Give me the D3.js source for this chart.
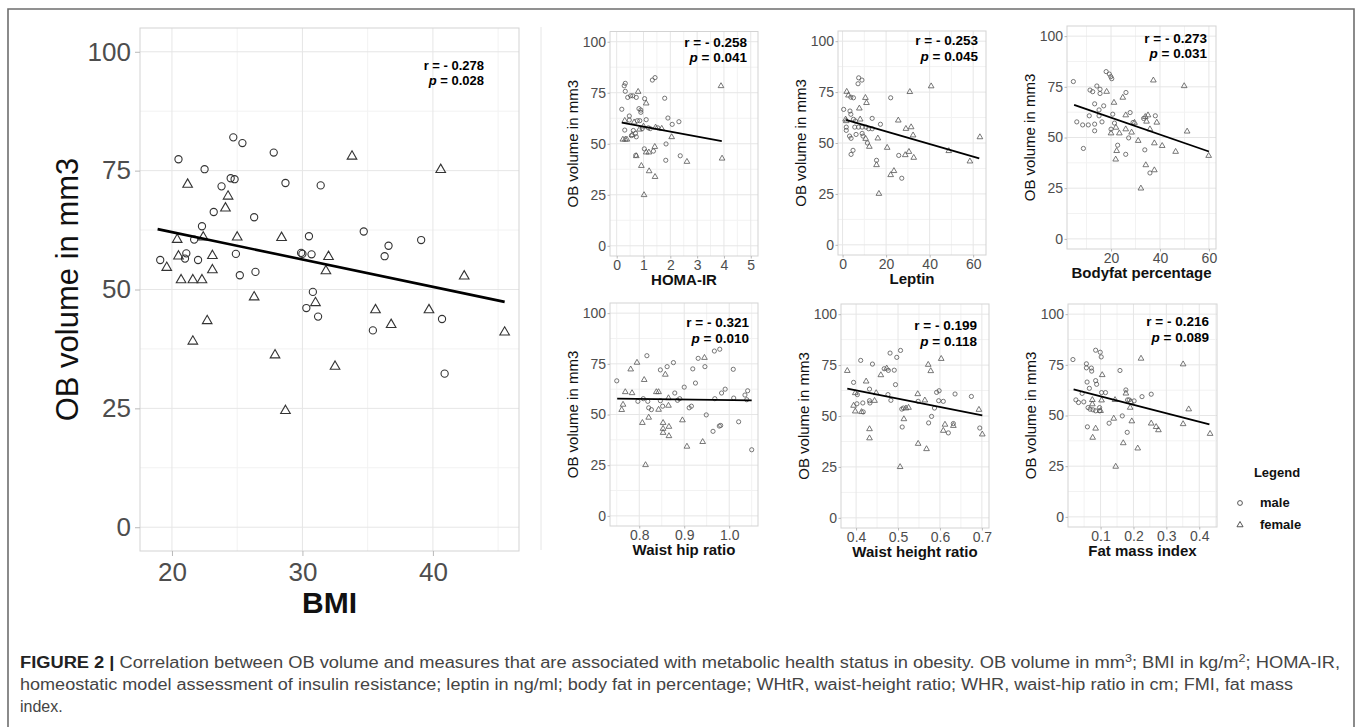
<!DOCTYPE html>
<html>
<head>
<meta charset="utf-8">
<title>OB volume and metabolic measures</title>
<script src="https://d3js.org/d3.v7.min.js"></script>
<style>
  body { margin: 0; background: #fff; }
  svg { display: block; font-family: "Liberation Sans", Arial, Helvetica, sans-serif; }
  .tick text { fill: #4d4d4d; }
  .tick line { stroke: #b8b8b8; }
</style>
</head>
<body>
<script>
var width = 1357,
    height = 727;

// y axis is shared by every panel
var yTicks = [0, 25, 50, 75, 100];

// BMI (large panel)
var bmiTicks = [20, 30, 40];
var bmiMale = [[19.1,56.2],[20.5,77.4],[21.1,57.6],[21.0,56.5],[21.7,60.5],[22.0,56.2],[22.3,63.3],[22.5,75.3],
  [23.2,66.3],[23.8,71.7],[24.7,82.0],[24.5,73.4],[24.8,73.2],[24.9,57.5],[25.2,53.0],[25.4,80.8],[26.3,65.2],
  [26.4,53.7],[27.8,78.8],[28.7,72.4],[29.9,57.7],[30.0,57.5],[30.5,61.2],[30.7,57.4],[31.4,71.9],[30.8,49.5],
  [30.3,46.1],[31.2,44.3],[34.7,62.2],[36.6,59.2],[36.3,57.0],[39.1,60.4],[40.7,43.8],[35.4,41.4],[40.9,32.3]];
var bmiFemale = [[19.6,54.6],[20.4,60.5],[20.5,57.0],[20.7,52.0],[21.2,72.1],[21.6,52.0],[22.3,52.0],[22.4,61.0],
  [23.1,57.1],[23.1,54.1],[22.7,43.4],[24.1,67.1],[24.3,69.6],[25.0,61.0],[26.3,48.4],[28.4,60.9],[31.0,47.2],
  [32.0,56.9],[31.8,53.9],[33.8,78.0],[35.6,45.7],[36.8,42.6],[40.6,75.2],[39.7,45.7],[42.4,52.8],[45.5,41.0],
  [21.6,39.1],[27.9,36.2],[28.7,24.5],[32.5,33.8]];
var bmiFit = [[18.9,62.7],[45.5,47.4]];
var bmiStats = ["- 0.278", "0.028"];

// HOMA-IR
var homaTicks = [0, 1, 2, 3, 4, 5];
var homaMale = [[0.19,66.9],[0.28,78.4],[0.32,79.6],[0.32,75.7],[0.41,72.7],[0.47,63.6],[0.52,73.5],[0.60,73.5],
  [0.30,56.7],[0.73,72.7],[0.83,67.2],[0.90,66.5],[0.90,65.4],[1.04,72.1],[1.10,61.8],[1.33,81.2],[1.43,82.4],
  [1.79,72.3],[1.91,62.6],[2.07,59.5],[2.32,60.8],[1.84,49.9],[1.37,46.4],[1.03,47.5],[0.71,44.3],[2.37,44.1],
  [1.83,41.9],[0.73,53.4],[0.70,55.1],[0.47,61.6],[1.18,57.8],[1.25,57.4],[1.53,57.8],[0.95,57.4],[0.86,61.3],
  [0.77,61.3],[0.55,54.0],[0.62,56.5]];
var homaFemale = [[0.23,52.1],[0.32,52.1],[0.38,52.1],[0.30,61.3],[0.80,75.5],[1.10,69.8],[0.73,44.0],[0.92,39.2],
  [1.02,24.9],[1.10,45.8],[1.20,45.8],[1.21,36.6],[1.43,33.8],[1.42,48.5],[1.45,58.0],[1.68,57.4],[2.05,53.3],
  [2.62,41.2],[3.89,78.3],[3.93,42.8],[0.58,54.3],[0.65,60.5],[0.85,57.0],[1.00,58.5]];
var homaFit = [[0.19,60.3],[3.92,51.3]];
var homaStats = ["- 0.258", "0.041"];

// Leptin
var leptinTicks = [0, 20, 40, 60];
var leptinMale = [[0.5,66.5],[3.8,72.5],[5.0,72.2],[3.4,65.7],[3.8,64.1],[1.7,57.8],[1.7,56.2],[5.0,61.6],[5.9,60.8],
  [5.6,57.8],[7.3,57.8],[9.0,57.8],[10.8,57.8],[3.2,53.4],[3.9,52.3],[6.2,54.2],[9.0,54.7],[9.4,53.4],[11.4,50.0],
  [4.8,46.4],[3.9,44.4],[7.1,79.1],[7.4,82.0],[8.9,80.9],[13.6,62.1],[12.0,57.0],[13.6,57.0],[17.4,59.2],
  [15.6,41.5],[22.1,72.2],[25.8,43.9],[27.2,32.7]];
var leptinFemale = [[1.9,75.2],[2.7,73.4],[1.4,61.6],[1.7,60.8],[8.1,61.6],[10.6,52.1],[12.3,48.2],[7.7,67.0],
  [10.5,72.2],[11.0,69.7],[16.2,52.3],[15.6,39.2],[16.7,25.1],[20.5,47.7],[22.1,34.3],[23.6,36.3],[25.6,61.1],
  [28.8,44.1],[29.1,57.0],[30.5,45.7],[30.9,75.1],[31.5,57.8],[32.4,53.8],[32.7,42.8],[40.7,77.9],[48.8,46.1],
  [58.5,41.0],[63.1,52.9]];
var leptinFit = [[1.6,61.3],[62.8,42.5]];
var leptinStats = ["- 0.253", "0.045"];

// Bodyfat percentage
var bodyfatTicks = [20, 40, 60];
var bodyfatMale = [[4.6,77.6],[6.0,57.7],[8.4,56.2],[10.7,56.2],[11.1,60.7],[8.7,44.6],[11.4,73.4],[12.5,72.6],
  [13.3,66.6],[13.3,56.6],[13.3,53.3],[14.2,75.4],[15.1,63.6],[15.5,73.8],[15.5,71.7],[15.1,60.7],[17.0,65.6],
  [16.3,57.7],[18.0,82.5],[19.3,81.3],[19.9,80.0],[20.3,79.0],[20.7,61.5],[20.0,54.1],[21.4,57.1],[22.7,46.2],
  [26.1,72.2],[27.8,62.3],[27.2,49.8],[29.0,57.4],[26.0,41.7],[33.3,59.4],[33.8,43.9],[38.1,60.7],[35.9,32.5]];
var bodyfatFemale = [[18.2,72.6],[21.2,67.2],[20.0,52.1],[22.0,54.9],[22.3,43.4],[21.9,39.2],[23.4,52.1],[24.8,69.7],
  [26.0,61.0],[26.0,54.1],[28.4,52.5],[29.6,57.3],[31.1,48.4],[34.0,60.2],[35.1,61.0],[34.5,57.9],[35.9,54.1],
  [38.7,57.4],[37.7,47.2],[40.9,45.9],[34.2,36.4],[37.7,33.9],[32.2,24.9],[37.3,78.2],[46.4,43.0],[49.9,75.4],
  [51.1,53.0],[59.9,41.0]];
var bodyfatFit = [[4.9,66.1],[60.0,43.1]];
var bodyfatStats = ["- 0.273", "0.031"];

// Waist hip ratio
var whrTicks = [0.8, 0.9, 1.0];
var whrMale = [[0.750,66.6],[0.797,56.5],[0.817,79.0],[0.809,57.8],[0.819,56.5],[0.821,53.3],[0.827,52.4],[0.847,72.0],
  [0.847,56.8],[0.852,54.1],[0.862,73.6],[0.876,75.6],[0.879,60.6],[0.885,57.0],[0.890,57.8],[0.900,63.5],
  [0.911,53.3],[0.916,54.1],[0.919,72.5],[0.925,65.5],[0.931,77.7],[0.946,73.6],[0.949,49.8],[0.964,41.7],
  [0.967,81.3],[0.979,82.2],[0.968,57.8],[0.978,44.3],[0.981,44.6],[0.983,60.6],[0.991,62.5],[1.009,72.3],
  [1.010,58.1],[1.021,46.4],[1.035,59.6],[1.041,61.7],[1.039,57.3],[1.050,32.6]];
var whrFemale = [[0.761,52.3],[0.764,54.9],[0.769,61.1],[0.781,72.3],[0.784,60.6],[0.795,75.6],[0.807,45.9],
  [0.811,67.1],[0.814,25.1],[0.821,48.5],[0.838,61.1],[0.843,61.1],[0.843,52.4],[0.853,45.9],[0.853,43.0],
  [0.853,41.0],[0.858,69.7],[0.865,54.4],[0.865,58.1],[0.866,44.0],[0.866,39.4],[0.896,47.2],[0.906,34.2],
  [0.941,36.5],[0.945,78.0]];
var whrFit = [[0.751,57.8],[1.050,57.0]];
var whrStats = ["- 0.321", "0.010"];

// Waist height ratio
var whtrTicks = [0.4, 0.5, 0.6, 0.7];
var whtrMale = [[0.394,66.5],[0.403,60.5],[0.402,56.0],[0.411,77.3],[0.416,56.4],[0.417,52.0],[0.432,63.2],[0.432,57.5],
  [0.433,56.4],[0.439,75.5],[0.467,73.2],[0.477,72.4],[0.476,60.5],[0.483,57.7],[0.481,80.9],[0.491,72.5],
  [0.494,65.4],[0.497,78.8],[0.506,82.2],[0.509,53.4],[0.513,53.9],[0.510,44.6],[0.548,57.2],[0.573,46.6],
  [0.580,49.8],[0.587,53.9],[0.592,61.6],[0.598,62.4],[0.597,57.5],[0.608,57.2],[0.620,41.7],[0.636,60.8],
  [0.632,46.3],[0.675,59.6],[0.695,44.1]];
var whtrFemale = [[0.379,72.2],[0.394,55.1],[0.398,61.3],[0.398,52.3],[0.413,52.0],[0.424,67.0],[0.432,43.6],
  [0.432,39.1],[0.444,57.5],[0.448,61.3],[0.459,70.1],[0.473,73.4],[0.505,25.0],[0.514,48.5],[0.519,53.8],
  [0.525,54.1],[0.547,60.8],[0.548,36.4],[0.564,57.7],[0.568,33.8],[0.572,75.2],[0.578,72.1],[0.603,78.1],
  [0.608,42.8],[0.612,45.8],[0.632,45.2],[0.693,53.1],[0.701,41.0]];
var whtrFit = [[0.379,63.4],[0.701,50.3]];
var whtrStats = ["- 0.199", "0.118"];

// Fat mass index
var fmiTicks = [0.1, 0.2, 0.3, 0.4];
var fmiMale = [[0.016,77.6],[0.025,57.7],[0.033,56.4],[0.049,56.7],[0.044,60.9],[0.057,75.5],[0.057,73.5],[0.059,66.5],
  [0.060,44.4],[0.062,53.9],[0.066,63.4],[0.068,53.1],[0.072,73.4],[0.073,71.9],[0.077,52.8],[0.085,52.3],
  [0.085,82.2],[0.085,67.2],[0.088,65.4],[0.099,81.2],[0.102,78.9],[0.097,53.9],[0.097,52.3],[0.103,61.3],
  [0.115,61.3],[0.126,46.2],[0.159,72.2],[0.166,49.8],[0.177,62.6],[0.182,57.7],[0.181,41.7],[0.187,57.7],
  [0.202,57.2],[0.226,59.3],[0.254,60.5]];
var fmiFemale = [[0.075,57.7],[0.075,55.6],[0.076,39.1],[0.085,43.6],[0.100,52.3],[0.105,70.0],[0.103,57.5],
  [0.140,48.5],[0.144,57.7],[0.146,24.8],[0.169,36.4],[0.177,60.9],[0.190,53.9],[0.192,56.7],[0.195,47.2],
  [0.213,33.8],[0.223,78.1],[0.254,46.1],[0.269,44.4],[0.276,42.8],[0.351,75.3],[0.351,45.8],[0.368,53.1],
  [0.433,41.0]];
var fmiFit = [[0.018,62.9],[0.431,45.6]];
var fmiStats = ["- 0.216", "0.089"];

var legendLabels = ["male", "female"];

// panel placement and look
var big = { tickFont: 26, tickLen: 5, xPad: 6.5, yPad: 4, yTitleSize: 31, yTitleOff: 73, xTitleSize: 30,
  xTitleOff: 62, r: 3.6, tri: 40, stroke: "#333", sw: 1.1, fitW: 2.6, statSize: 13, statGap: 15 };
var small = { tickFont: 14, tickLen: 2.5, xPad: 1.5, yPad: 1.5, yTitleSize: 15, yTitleOff: 37, xTitleSize: 15,
  xTitleOff: 29, r: 2.1, tri: 14, stroke: "#555", sw: 0.8, fitW: 1.8, statSize: 13.5, statGap: 15.5 };

var panels = [
  { title: "BMI", male: bmiMale, female: bmiFemale, fit: bmiFit, stats: bmiStats, ticks: bmiTicks,
    xDomain: [17.55, 46.6], box: { l: 140, r: 519, t: 28, b: 551 }, st: big, stat: [484, 70] },
  { title: "HOMA-IR", male: homaMale, female: homaFemale, fit: homaFit, stats: homaStats, ticks: homaTicks,
    xDomain: [-0.25, 5.27], box: { l: 610, r: 758, t: 31.5, b: 256 }, st: small, stat: [747, 46.7] },
  { title: "Leptin", male: leptinMale, female: leptinFemale, fit: leptinFit, stats: leptinStats, ticks: leptinTicks,
    xDomain: [-2.1, 65.9], box: { l: 838, r: 986, t: 31, b: 255 }, st: small, stat: [978, 45] },
  { title: "Bodyfat percentage", male: bodyfatMale, female: bodyfatFemale, fit: bodyfatFit, stats: bodyfatStats,
    ticks: bodyfatTicks, xDomain: [2.0, 62.9], box: { l: 1067, r: 1216, t: 26, b: 249 }, st: small, stat: [1207, 42.7] },
  { title: "Waist hip ratio", male: whrMale, female: whrFemale, fit: whrFit, stats: whrStats, ticks: whrTicks,
    xDomain: [0.735, 1.064], box: { l: 610, r: 758, t: 303, b: 526 }, st: small, stat: [749, 327], fmt: ".1f" },
  { title: "Waist height ratio", male: whtrMale, female: whtrFemale, fit: whtrFit, stats: whtrStats, ticks: whtrTicks,
    xDomain: [0.364, 0.717], box: { l: 841, r: 989, t: 304, b: 528 }, st: small, stat: [977, 330], fmt: ".1f" },
  { title: "Fat mass index", male: fmiMale, female: fmiFemale, fit: fmiFit, stats: fmiStats, ticks: fmiTicks,
    xDomain: [0.001, 0.454], box: { l: 1068, r: 1217, t: 304, b: 527 }, st: small, stat: [1209, 326], fmt: ".1f" }
];

var svg = d3.select("body")
  .append("svg")
  .attr("width", width)
  .attr("height", height);

// figure frame
svg.append("path")
  .attr("d", "M8,727 V9 H1354 V727")
  .attr("fill", "none")
  .attr("stroke", "#6e6e6e")
  .attr("stroke-width", 1.6);
svg.append("line")
  .attr("x1", 541).attr("x2", 541).attr("y1", 27).attr("y2", 550)
  .attr("stroke", "#e6e6e6");

// minor breaks sit halfway between majors, like ggplot
function minors(ticks, domain) {
  var step = ticks.length > 1 ? ticks[1] - ticks[0] : 1;
  var out = [];
  for (var v = ticks[0] - step / 2; v <= ticks[ticks.length - 1] + step; v += step) {
    if (v > domain[0] && v < domain[1]) out.push(v);
  }
  return out;
}

var triangle = function(size) { return d3.symbol().type(d3.symbolTriangle).size(size)(); };

panels.forEach(function(p, i) {
  var st = p.st, b = p.box;
  var x = d3.scaleLinear().domain(p.xDomain).range([b.l, b.r]);
  var y = d3.scaleLinear().domain([-5, 105]).range([b.b, b.t]);
  var g = svg.append("g").attr("class", "panel");

  // grid
  var grid = g.append("g");
  grid.selectAll(".mx").data(minors(p.ticks, p.xDomain)).enter().append("line")
    .attr("x1", function(d) { return x(d); }).attr("x2", function(d) { return x(d); })
    .attr("y1", b.t).attr("y2", b.b).attr("stroke", "#f2f2f2");
  grid.selectAll(".my").data(minors(yTicks, [-5, 105])).enter().append("line")
    .attr("y1", function(d) { return y(d); }).attr("y2", function(d) { return y(d); })
    .attr("x1", b.l).attr("x2", b.r).attr("stroke", "#f2f2f2");
  grid.selectAll(".Mx").data(p.ticks).enter().append("line")
    .attr("x1", function(d) { return x(d); }).attr("x2", function(d) { return x(d); })
    .attr("y1", b.t).attr("y2", b.b).attr("stroke", "#e6e6e6");
  grid.selectAll(".My").data(yTicks).enter().append("line")
    .attr("y1", function(d) { return y(d); }).attr("y2", function(d) { return y(d); })
    .attr("x1", b.l).attr("x2", b.r).attr("stroke", "#e6e6e6");

  g.append("rect")
    .attr("x", b.l).attr("y", b.t).attr("width", b.r - b.l).attr("height", b.b - b.t)
    .attr("fill", "none").attr("stroke", "#d3d3d3");

  // axes
  var xAxis = d3.axisBottom(x).tickValues(p.ticks).tickSize(st.tickLen).tickPadding(st.xPad)
    .tickFormat(p.fmt ? d3.format(p.fmt) : d3.format("d"));
  var yAxis = d3.axisLeft(y).tickValues(yTicks).tickSize(st.tickLen).tickPadding(st.yPad);
  var ax = g.append("g").attr("transform", "translate(0," + b.b + ")").call(xAxis);
  var ay = g.append("g").attr("transform", "translate(" + b.l + ",0)").call(yAxis);
  [ax, ay].forEach(function(a) {
    a.select(".domain").remove();
    a.selectAll("text").attr("font-size", st.tickFont).attr("font-family", null);
  });

  // titles
  g.append("text")
    .attr("transform", "translate(" + (b.l - st.yTitleOff) + "," + ((b.t + b.b) / 2) + ") rotate(-90)")
    .attr("text-anchor", "middle").attr("dy", "0.36em")
    .attr("font-size", st.yTitleSize).attr("fill", "#111")
    .text("OB volume in mm3");
  g.append("text")
    .attr("x", (b.l + b.r) / 2).attr("y", b.b + st.xTitleOff)
    .attr("text-anchor", "middle").attr("font-weight", "bold")
    .attr("font-size", st.xTitleSize).attr("fill", "#111")
    .text(p.title);

  // clipped marks
  var clipId = "clip" + i;
  g.append("clipPath").attr("id", clipId).append("rect")
    .attr("x", b.l).attr("y", b.t).attr("width", b.r - b.l).attr("height", b.b - b.t);
  var marks = g.append("g").attr("clip-path", "url(#" + clipId + ")");

  marks.selectAll("circle").data(p.male).enter().append("circle")
    .attr("cx", function(d) { return x(d[0]); })
    .attr("cy", function(d) { return y(d[1]); })
    .attr("r", st.r)
    .attr("fill", "none").attr("stroke", st.stroke).attr("stroke-width", st.sw);
  marks.selectAll("path.tri").data(p.female).enter().append("path")
    .attr("class", "tri")
    .attr("d", triangle(st.tri))
    .attr("transform", function(d) { return "translate(" + x(d[0]) + "," + y(d[1]) + ")"; })
    .attr("fill", "none").attr("stroke", st.stroke).attr("stroke-width", st.sw);

  marks.append("path")
    .datum(p.fit)
    .attr("d", d3.line().x(function(d) { return x(d[0]); }).y(function(d) { return y(d[1]); }))
    .attr("fill", "none").attr("stroke", "#000").attr("stroke-width", st.fitW);

  // r and p
  var s = g.append("g").attr("font-weight", "bold").attr("font-size", st.statSize)
    .attr("text-anchor", "end").attr("fill", "#000");
  s.append("text").attr("x", p.stat[0]).attr("y", p.stat[1]).text("r = " + p.stats[0]);
  var pt = s.append("text").attr("x", p.stat[0]).attr("y", p.stat[1] + st.statGap);
  pt.append("tspan").attr("font-style", "italic").text("p");
  pt.append("tspan").text(" = " + p.stats[1]);
});

// legend
var legend = svg.append("g").attr("font-weight", "bold").attr("font-size", 13).attr("fill", "#111");
legend.append("text").attr("x", 1277).attr("y", 477).attr("text-anchor", "middle").text("Legend");
legend.selectAll(".lab").data(legendLabels).enter().append("text")
  .attr("x", 1260).attr("y", function(d, i) { return 507 + i * 22; })
  .text(function(d) { return d; });
legend.append("circle").attr("cx", 1240).attr("cy", 503).attr("r", 2.4)
  .attr("fill", "none").attr("stroke", "#444").attr("stroke-width", 0.9);
legend.append("path").attr("d", triangle(16)).attr("transform", "translate(1240,525)")
  .attr("fill", "none").attr("stroke", "#444").attr("stroke-width", 0.9);

// caption
var cap = svg.append("g").attr("font-size", 16).attr("fill", "#444");
var l1 = cap.append("text").attr("x", 20).attr("y", 668)
  .attr("textLength", 1320).attr("lengthAdjust", "spacingAndGlyphs");
l1.append("tspan").attr("font-weight", "bold").attr("fill", "#222").text("FIGURE 2 | ");
l1.append("tspan").text("Correlation between OB volume and measures that are associated with metabolic health status in obesity. OB volume in mm");
l1.append("tspan").attr("baseline-shift", "super").attr("font-size", 11).text("3");
l1.append("tspan").text("; BMI in kg/m");
l1.append("tspan").attr("baseline-shift", "super").attr("font-size", 11).text("2");
l1.append("tspan").text("; HOMA-IR,");
cap.append("text").attr("x", 20).attr("y", 690)
  .attr("textLength", 1273).attr("lengthAdjust", "spacingAndGlyphs")
  .text("homeostatic model assessment of insulin resistance; leptin in ng/ml; body fat in percentage; WHtR, waist-height ratio; WHR, waist-hip ratio in cm; FMI, fat mass");
cap.append("text").attr("x", 20).attr("y", 712).text("index.");
</script>
</body>
</html>
